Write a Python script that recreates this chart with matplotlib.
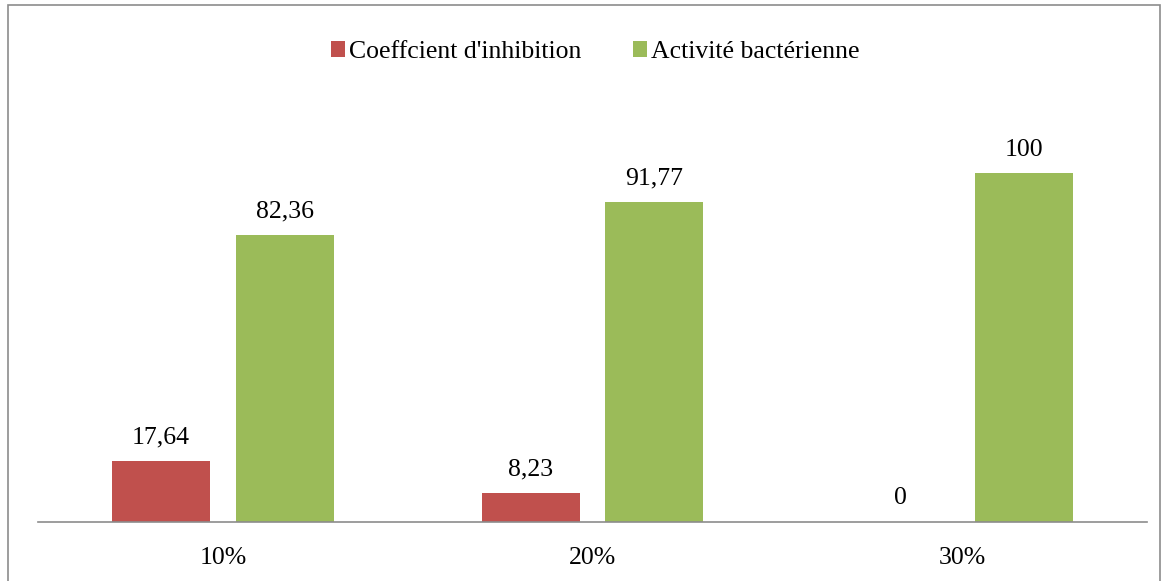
import matplotlib.pyplot as plt
import numpy as np
from matplotlib.patches import Rectangle

categories = ["10%", "20%", "30%"]
inhibition = [17.64, 8.23, 0]
activite = [82.36, 91.77, 100]
series_names = ["Coeffcient d'inhibition", "Activité bactérienne"]

plt.rcParams["font.family"] = ["Liberation Serif", "DejaVu Serif"]

W, H = 1165, 581
fig = plt.figure(figsize=(W / 100, H / 100), dpi=100)

# chart border like the spreadsheet frame
fig.patches.append(Rectangle((8 / W, -0.01), (1160 - 8) / W, (H - 5) / H + 0.01,
                             transform=fig.transFigure, fill=False,
                             edgecolor="#8c8c8c", linewidth=1.2))

ax = fig.add_axes([38 / W, (H - 522) / H, (1147 - 38) / W, (522 - 120) / H])

x = np.arange(len(categories))
w = 0.265
off = 0.167
b1 = ax.bar(x - off, inhibition, w, color="#C0504D", label=series_names[0])
b2 = ax.bar(x + off, activite, w, color="#9BBB59", label=series_names[1])

def fmt(v):
    return f"{v:g}".replace(".", ",")

fs = 18.5
ax.bar_label(b1, labels=[fmt(v) for v in inhibition], padding=9, fontsize=fs)
ax.bar_label(b2, labels=[fmt(v) for v in activite], padding=9, fontsize=fs)

ax.set_xlim(-0.5, 2.5)
ax.set_ylim(0, 115.35)
ax.set_xticks(x)
ax.set_xticklabels(categories, fontsize=fs)
ax.tick_params(axis="x", length=0, pad=18)
ax.set_yticks([])
for s in ["top", "left", "right"]:
    ax.spines[s].set_visible(False)
ax.spines["bottom"].set_color("#8c8c8c")
ax.spines["bottom"].set_linewidth(1.2)

fig.legend(loc="center", bbox_to_anchor=(595 / W, 1 - 52 / H), ncol=2,
           frameon=False, fontsize=fs, handlelength=0.55, handleheight=0.55,
           handletextpad=0.15, columnspacing=2.0)

fig.savefig("out.png", dpi=100)
